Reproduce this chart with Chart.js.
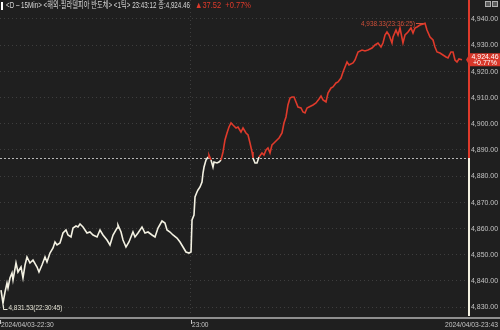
<!DOCTYPE html>
<html>
<head>
<meta charset="utf-8">
<script src="https://cdn.jsdelivr.net/npm/chart.js@4.4.1/dist/chart.umd.min.js"></script>
<style>
  html, body { margin: 0; padding: 0; background: #1f1f1f; }
  #wrap { width: 500px; height: 330px; }
</style>
</head>
<body>
<div id="wrap"><canvas id="chart"></canvas></div>
<script>
// minutes after 22:30 and price
const minutes = [
  0.16, 0.47, 0.79, 1.10, 1.26, 1.57, 1.89, 2.05, 2.52, 2.83,
  3.31, 3.62, 3.94, 4.25, 4.72, 5.20, 5.83, 6.14, 6.61, 7.09,
  7.40, 7.87, 8.35, 8.66, 8.98, 9.45, 9.92, 10.39, 10.71, 11.18,
  11.50, 11.97, 12.28, 12.60, 13.07, 13.70, 14.17, 14.65, 15.28, 15.75,
  16.22, 16.85, 17.32, 17.80, 18.43, 18.58, 19.06, 19.37, 19.84, 20.31,
  20.94, 21.26, 21.73, 22.36, 22.83, 23.31, 23.94, 24.41, 24.88, 25.51,
  25.98, 26.30, 26.77, 27.24, 27.87, 28.35, 28.82, 29.29, 29.76, 30.08,
  30.24, 30.55, 30.71, 31.02, 31.18, 31.50, 31.81, 31.97, 32.13, 32.44,
  32.76, 32.91, 33.23, 33.54, 33.70, 34.17, 34.49, 34.80, 35.12, 35.43,
  35.75, 36.06, 36.38, 36.69, 37.17, 37.48, 37.95, 38.27, 38.74, 39.06,
  39.37, 39.69, 39.84, 40.16, 40.47, 40.79, 41.26, 41.57, 41.89, 42.20,
  42.52, 42.83, 43.15, 43.62, 43.94, 44.41, 44.72, 45.04, 45.35, 45.67,
  45.98, 46.30, 46.61, 46.93, 47.40, 47.72, 48.03, 48.35, 48.66, 49.29,
  49.76, 50.24, 50.55, 50.87, 51.34, 51.65, 52.13, 52.44, 52.91, 53.23,
  53.70, 54.02, 54.33, 54.65, 54.96, 55.59, 55.91, 56.38, 57.01, 57.48,
  57.95, 58.58, 59.06, 59.53, 60.00, 60.31, 60.63, 60.94, 61.26, 61.73,
  61.89, 62.36, 62.68, 62.99, 63.46, 63.78, 64.25, 64.72, 65.04, 65.35,
  65.67, 66.14, 66.93, 67.24, 67.72, 68.19, 68.50, 68.82, 69.29, 69.76,
  70.24, 70.55, 71.02, 71.34, 71.65, 71.97, 72.28, 72.76
];
const prices = [
  4836.56, 4831.53, 4835.80, 4839.23, 4837.33, 4841.14, 4843.05, 4840.38, 4846.87, 4843.43,
  4845.34, 4841.14, 4846.10, 4849.16, 4846.87, 4848.01, 4845.34, 4843.43, 4846.10, 4849.16,
  4847.25, 4850.68, 4852.59, 4854.88, 4853.74, 4854.50, 4858.32, 4859.46, 4857.56, 4856.79,
  4860.23, 4860.99, 4860.61, 4861.75, 4860.61, 4858.32, 4858.70, 4857.56, 4856.79, 4859.46,
  4857.56, 4855.65, 4853.74, 4857.56, 4860.23, 4861.37, 4858.70, 4855.65, 4852.98, 4854.88,
  4858.70, 4856.79, 4858.32, 4860.61, 4858.32, 4858.70, 4857.56, 4856.79, 4860.23, 4862.90,
  4862.14, 4859.46, 4858.70, 4857.56, 4856.41, 4854.88, 4852.98, 4851.07, 4850.68, 4851.07,
  4863.28, 4865.19, 4872.06, 4873.97, 4874.73, 4875.88, 4877.79, 4881.22, 4883.51, 4886.18,
  4887.33, 4888.09, 4886.18, 4883.51, 4885.42, 4885.04, 4885.42, 4886.18, 4889.24, 4893.82,
  4896.49, 4898.78, 4900.31, 4899.54, 4898.40, 4898.78, 4896.87, 4898.40, 4896.49, 4895.73,
  4892.67, 4889.24, 4886.95, 4885.04, 4885.04, 4887.33, 4888.85, 4888.09, 4890.00, 4890.76,
  4888.85, 4891.91, 4892.67, 4893.82, 4894.58, 4896.49, 4900.31, 4902.60, 4907.18, 4909.85,
  4910.23, 4910.23, 4908.32, 4906.41, 4906.03, 4904.50, 4904.12, 4906.03, 4906.41, 4907.18,
  4907.94, 4909.47, 4910.61, 4909.09, 4908.32, 4911.76, 4913.67, 4914.05, 4915.57, 4915.96,
  4917.48, 4919.77, 4921.68, 4923.59, 4922.44, 4923.21, 4924.35, 4927.41, 4928.17, 4927.79,
  4928.17, 4928.93, 4930.08, 4930.84, 4929.32, 4930.84, 4933.90, 4935.04, 4933.90, 4930.84,
  4933.13, 4935.80, 4933.90, 4936.57, 4930.84, 4933.90, 4935.04, 4936.57, 4934.66, 4936.57,
  4936.95, 4937.71, 4938.33, 4935.80, 4933.13, 4931.99, 4929.32, 4927.41, 4927.02, 4926.26,
  4925.50, 4925.12, 4927.41, 4927.41, 4924.35, 4923.59, 4924.73, 4924.46
];
const prevClose = 4886.94;
const yTicks = [4830, 4840, 4850, 4860, 4870, 4880, 4890, 4900, 4910, 4920, 4930, 4940];
const xTickMinutes = [0, 30];
const xTickLabels = ['2024/04/03-22:30', '23:00'];
const lastTimeLabel = '2024/04/03-23:43';
const headerText = '<D \u2013 15Min> <해외-필라델피아 반도체> <1틱> 23:43:12 종:4,924.46';
const changeText = '\u25B237.52  +0.77%';
const lowLabel = '4,831.53(22:30:45)';
const highLabel = '4,938.33(23:36:25)';
const changePct = '+0.77%';

const RED = '#df3a2b';
const WHITE = '#f3f1e2';
const TXT = '#c4c4c4';
const SMALL = '8px "Liberation Sans", Arial, sans-serif';

const fmt = v => v.toLocaleString('en-US', { minimumFractionDigits: 2, maximumFractionDigits: 2 });

const decor = {
  id: 'decor',
  beforeDatasetsDraw(chart) {
    const { ctx, chartArea: a, scales: { y } } = chart;
    const ry = Math.round(y.getPixelForValue(prevClose)) + 0.5;
    ctx.save();
    ctx.strokeStyle = '#b8b8b8';
    ctx.lineWidth = 1;
    ctx.setLineDash([2, 2]);
    ctx.beginPath();
    ctx.moveTo(a.left, ry);
    ctx.lineTo(a.right, ry);
    ctx.stroke();
    ctx.restore();
  },
  afterDraw(chart) {
    const { ctx, chartArea: a, scales: { x, y } } = chart;
    const W = chart.width;
    ctx.save();

    // header
    ctx.fillStyle = '#ffffff';
    ctx.fillRect(1, 2, 2, 8);
    ctx.textBaseline = 'middle';
    ctx.textAlign = 'left';
    ctx.font = '9px "Liberation Sans", "Noto Sans CJK KR", sans-serif';
    ctx.fillStyle = '#d6d6d6';
    ctx.fillText(headerText, 6, 6, 184);
    ctx.fillStyle = RED;
    ctx.fillText(changeText, 195, 6, 56);

    // little buttons top right
    ctx.fillStyle = '#5c5c5c';
    ctx.fillRect(485, 1, 6, 6);
    ctx.fillRect(492, 1, 6, 6);
    ctx.strokeStyle = '#b0b0b0';
    ctx.lineWidth = 1;
    ctx.strokeRect(485.5, 1.5, 5, 5);
    ctx.strokeRect(492.5, 1.5, 5, 5);

    // right axis line, red above previous close, white below
    const ry = y.getPixelForValue(prevClose);
    ctx.fillStyle = RED;
    ctx.fillRect(a.right, 0, 2, ry);
    ctx.fillStyle = WHITE;
    ctx.fillRect(a.right, ry, 2, a.bottom - ry);

    // y tick labels
    ctx.font = SMALL;
    ctx.fillStyle = TXT;
    yTicks.forEach(v => {
      ctx.fillText(fmt(v), a.right + 3, y.getPixelForValue(v), 27);
    });

    // price tag
    const last = prices[prices.length - 1];
    const py = y.getPixelForValue(last);
    ctx.fillStyle = '#d8372a';
    ctx.beginPath();
    ctx.moveTo(a.right - 2, py);
    ctx.lineTo(a.right + 2, py - 6.5);
    ctx.lineTo(W, py - 6.5);
    ctx.lineTo(W, py + 6.5);
    ctx.lineTo(a.right + 2, py + 6.5);
    ctx.closePath();
    ctx.fill();
    ctx.fillStyle = '#ffffff';
    ctx.font = '7px "Liberation Sans", Arial, sans-serif';
    ctx.textAlign = 'center';
    ctx.fillText(fmt(last), 485, py - 3, 27);
    ctx.fillText(changePct, 485, py + 3.5, 27);

    // bottom axis band
    ctx.fillStyle = '#8e8e8e';
    ctx.fillRect(0, a.bottom + 1, W, 2);
    ctx.font = SMALL;
    ctx.fillStyle = TXT;
    ctx.textAlign = 'left';
    xTickMinutes.forEach((m, i) => {
      const px = Math.round(x.getPixelForValue(m));
      ctx.fillRect(px, a.bottom + 4, 1, 4);
      ctx.fillText(xTickLabels[i], px + 1, a.bottom + 9, xTickLabels[i].length * 3.3);
    });
    ctx.textAlign = 'right';
    ctx.fillText(lastTimeLabel, W - 2, a.bottom + 9, 53);

    // low annotation
    let lo = 0, hi = 0;
    prices.forEach((p, i) => {
      if (p < prices[lo]) lo = i;
      if (p > prices[hi]) hi = i;
    });
    const lx = Math.round(x.getPixelForValue(minutes[lo])) + 0.5;
    const ly = y.getPixelForValue(prices[lo]);
    ctx.strokeStyle = '#e6e4d6';
    ctx.lineWidth = 1;
    ctx.beginPath();
    ctx.moveTo(lx, ly + 2);
    ctx.lineTo(lx, 309.5);
    ctx.lineTo(lx + 4, 309.5);
    ctx.stroke();
    ctx.fillStyle = '#e6e4d6';
    ctx.textAlign = 'left';
    ctx.fillText(lowLabel, lx + 5, 308, 54);

    // high annotation
    const hx = x.getPixelForValue(minutes[hi]);
    const hy = Math.round(y.getPixelForValue(prices[hi])) + 0.5;
    ctx.strokeStyle = '#d0503a';
    ctx.beginPath();
    ctx.moveTo(hx - 2, hy);
    ctx.lineTo(hx - 9, hy);
    ctx.stroke();
    ctx.fillStyle = '#d0503a';
    ctx.textAlign = 'right';
    ctx.fillText(highLabel, hx - 10, hy, 54);

    ctx.restore();
  }
};

new Chart(document.getElementById('chart'), {
  type: 'line',
  data: {
    datasets: [{
      data: minutes.map((m, i) => ({ x: m, y: prices[i] })),
      borderWidth: 1.6,
      pointRadius: 0,
      tension: 0,
      borderColor: WHITE,
      segment: {
        borderColor: c => (c.p0.parsed.y + c.p1.parsed.y) / 2 > prevClose ? RED : WHITE
      }
    }]
  },
  options: {
    responsive: true,
    maintainAspectRatio: false,
    animation: false,
    layout: { padding: 0 },
    plugins: { legend: { display: false }, tooltip: { enabled: false } },
    scales: {
      x: {
        type: 'linear',
        min: 0,
        max: 73.7,
        afterBuildTicks: s => { s.ticks = [{ value: 30 }]; },
        afterFit: s => { s.height = 14; },
        ticks: { display: false },
        grid: { color: '#3e3e3e', drawTicks: false },
        border: { display: false, dash: [1, 3] }
      },
      y: {
        position: 'right',
        min: 4826.64,
        max: 4947.25,
        afterBuildTicks: s => { s.ticks = yTicks.map(v => ({ value: v })); },
        afterFit: s => { s.width = 32; },
        ticks: { display: false },
        grid: { color: '#3e3e3e', drawTicks: false },
        border: { display: false, dash: [1, 3] }
      }
    }
  },
  plugins: [decor]
});
</script>
</body>
</html>
